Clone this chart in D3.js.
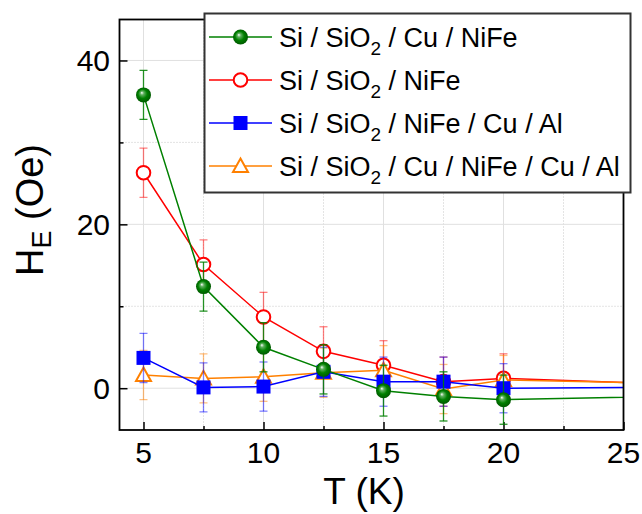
<!DOCTYPE html>
<html>
<head>
<meta charset="utf-8">
<script src="https://cdn.jsdelivr.net/npm/d3@7"></script>
<style>
  html, body { margin: 0; padding: 0; background: #fff; }
  svg { display: block; font-family: "Liberation Sans", Arial, sans-serif; }
</style>
</head>
<body>
<svg id="chart" width="642" height="514"></svg>
<script>
// ---------- data ----------
const temps = [5, 7.5, 10, 12.5, 15, 17.5, 20, 30];
const seriesNames = ["Si / SiO|2| / Cu / NiFe", "Si / SiO|2| / NiFe", "Si / SiO|2| / NiFe / Cu / Al", "Si / SiO|2| / Cu / NiFe / Cu / Al"];
const cuNiFe      = [35.8, 12.4, 5.0, 2.3, -0.3, -1.0, -1.4, -0.8];
const niFe        = [26.3, 15.1, 8.7, 4.5, 2.8, 0.8, 1.2, 0.2];
const niFeCuAl    = [3.7, 0.1, 0.2, 2.0, 0.8, 0.8, 0.0, 0.15];
const cuNiFeCuAl  = [1.6, 1.2, 1.4, 1.9, 2.2, -0.1, 1.0, 0.4];
const errCuNiFe     = [3, 3, 3, 3, 3.1, 3, 3, 3];
const errNiFe       = [3, 3, 3, 3, 3, 3, 3, 3];
const errNiFeCuAl   = [3, 3, 3, 3, 3, 3, 3, 3];
const errCuNiFeCuAl = [3, 3, 3, 3, 3, 3, 3, 3];
const xTicks = [5, 10, 15, 20, 25];
const xMinor = [7.5, 12.5, 17.5, 22.5];
const yTicks = [0, 20, 40];
const yMinor = [10, 30];

const series = [
  { name: seriesNames[0], values: cuNiFe,     err: errCuNiFe,     color: "#008000", marker: "sphere",   errOpacity: 0.85 },
  { name: seriesNames[1], values: niFe,       err: errNiFe,       color: "#ff0000", marker: "circle",   errOpacity: 0.5 },
  { name: seriesNames[2], values: niFeCuAl,   err: errNiFeCuAl,   color: "#0000ff", marker: "square",   errOpacity: 0.5 },
  { name: seriesNames[3], values: cuNiFeCuAl, err: errCuNiFeCuAl, color: "#ff8000", marker: "triangle", errOpacity: 0.5 }
];
const drawOrder = [1, 3, 2, 0];

// ---------- layout ----------
const svg = d3.select("#chart");
const L = 119.5, R = 623.5, T = 19.5, B = 430;
const x = d3.scaleLinear().domain([4, 25]).range([L, R]);
const y = d3.scaleLinear().domain([-5.1, 45]).range([B, T]);

const defs = svg.append("defs");
defs.append("clipPath").attr("id", "clip")
  .append("rect").attr("x", L).attr("y", T).attr("width", R - L).attr("height", B - T);
const grad = defs.append("radialGradient").attr("id", "sphere")
  .attr("cx", "50%").attr("cy", "50%").attr("r", "55%").attr("fx", "38%").attr("fy", "35%");
grad.append("stop").attr("offset", "0%").attr("stop-color", "#ffffff");
grad.append("stop").attr("offset", "22%").attr("stop-color", "#5fb05f");
grad.append("stop").attr("offset", "55%").attr("stop-color", "#008000");
grad.append("stop").attr("offset", "100%").attr("stop-color", "#005200");

// grid
const grid = svg.append("g");
grid.selectAll(".gx").data(xTicks.filter(d => d < 25)).join("line")
  .attr("x1", d => x(d)).attr("x2", d => x(d)).attr("y1", T).attr("y2", B)
  .attr("stroke", "#e0e0e0").attr("stroke-width", 1);
grid.selectAll(".gxm").data(xMinor).join("line")
  .attr("x1", d => x(d)).attr("x2", d => x(d)).attr("y1", T).attr("y2", B)
  .attr("stroke", "#c8c8c8").attr("stroke-width", 1).attr("stroke-dasharray", "1,2");
grid.selectAll(".gy").data(yTicks).join("line")
  .attr("x1", L).attr("x2", R).attr("y1", d => y(d)).attr("y2", d => y(d))
  .attr("stroke", "#e0e0e0").attr("stroke-width", 1);
grid.selectAll(".gym").data(yMinor).join("line")
  .attr("x1", L).attr("x2", R).attr("y1", d => y(d)).attr("y2", d => y(d))
  .attr("stroke", "#c8c8c8").attr("stroke-width", 1).attr("stroke-dasharray", "1,2");

// axes (ticks inside)
const xAxis = d3.axisBottom(x).tickValues(xTicks).tickSize(-8).tickFormat("");
const xAxisMinor = d3.axisBottom(x).tickValues(xMinor).tickSize(-4).tickFormat("");
const yAxis = d3.axisLeft(y).tickValues(yTicks).tickSize(-8).tickFormat("");
const yAxisMinor = d3.axisLeft(y).tickValues(yMinor).tickSize(-4).tickFormat("");
[xAxis, xAxisMinor].forEach(a => {
  const g = svg.append("g").attr("transform", `translate(0,${B})`).call(a);
  g.select(".domain").remove();
  g.selectAll("line").attr("stroke", "#000").attr("stroke-width", 1.5);
});
[yAxis, yAxisMinor].forEach(a => {
  const g = svg.append("g").attr("transform", `translate(${L},0)`).call(a);
  g.select(".domain").remove();
  g.selectAll("line").attr("stroke", "#000").attr("stroke-width", 1.5);
});

// tick labels
svg.append("g").selectAll("text").data(xTicks).join("text")
  .attr("x", d => x(d)).attr("y", 463).attr("text-anchor", "middle")
  .attr("font-size", 30).attr("fill", "#000").text(d => d);
svg.append("g").selectAll("text").data(yTicks).join("text")
  .attr("x", 110).attr("y", d => y(d) + 10.5).attr("text-anchor", "end")
  .attr("font-size", 30).attr("fill", "#000").text(d => d);

// axis titles
svg.append("text").attr("x", 364).attr("y", 504).attr("text-anchor", "middle")
  .attr("font-size", 37).attr("fill", "#000").text("T (K)");
const yt = svg.append("text").attr("transform", "translate(43,210) rotate(-90)")
  .attr("text-anchor", "middle").attr("font-size", 38).attr("fill", "#000");
yt.append("tspan").text("H");
yt.append("tspan").attr("font-size", 27).attr("dy", 8).text("E");
yt.append("tspan").attr("dy", -8).text(" (Oe)");

// marker drawing
function drawMarker(g, type, color, cx, cy) {
  if (type === "sphere") {
    g.append("circle").attr("cx", cx).attr("cy", cy).attr("r", 7.5).attr("fill", "url(#sphere)");
  } else if (type === "circle") {
    g.append("circle").attr("cx", cx).attr("cy", cy).attr("r", 6.8)
      .attr("fill", "#fff").attr("stroke", color).attr("stroke-width", 2);
  } else if (type === "square") {
    g.append("rect").attr("x", cx - 7).attr("y", cy - 7).attr("width", 14).attr("height", 14)
      .attr("fill", color);
  } else if (type === "triangle") {
    const s = 7.5;
    g.append("path")
      .attr("d", `M${cx},${cy - s}L${cx + s},${cy + s * 0.8}L${cx - s},${cy + s * 0.8}Z`)
      .attr("fill", "#fff").attr("stroke", color).attr("stroke-width", 2).attr("stroke-linejoin", "miter");
  }
}

// plot series
const plot = svg.append("g").attr("clip-path", "url(#clip)");
const line = d3.line().x(d => x(d[0])).y(d => y(d[1]));
drawOrder.forEach(i => {
  const s = series[i];
  const pts = temps.map((t, k) => [t, s.values[k], s.err[k]]);
  const g = plot.append("g");
  g.append("path").datum(pts).attr("d", line).attr("fill", "none")
    .attr("stroke", s.color).attr("stroke-width", 1.5);
  pts.forEach(p => {
    const cx = x(p[0]);
    const eg = g.append("g").attr("stroke", s.color).attr("stroke-opacity", s.errOpacity).attr("stroke-width", 1.3);
    eg.append("line").attr("x1", cx).attr("x2", cx).attr("y1", y(p[1] + p[2])).attr("y2", y(p[1] - p[2]));
    eg.append("line").attr("x1", cx - 4).attr("x2", cx + 4).attr("y1", y(p[1] + p[2])).attr("y2", y(p[1] + p[2]));
    eg.append("line").attr("x1", cx - 4).attr("x2", cx + 4).attr("y1", y(p[1] - p[2])).attr("y2", y(p[1] - p[2]));
  });
  pts.forEach(p => drawMarker(g, s.marker, s.color, x(p[0]), y(p[1])));
});

// frame
svg.append("rect").attr("x", L).attr("y", T).attr("width", R - L).attr("height", B - T)
  .attr("fill", "none").attr("stroke", "#000").attr("stroke-width", 1.8);

// legend
const lg = svg.append("g");
lg.append("rect").attr("x", 204.5).attr("y", 13.5).attr("width", 426).attr("height", 179)
  .attr("fill", "#fff").attr("stroke", "#333").attr("stroke-width", 2);
series.forEach((s, i) => {
  const cy = 37 + i * 43;
  lg.append("line").attr("x1", 209).attr("x2", 272).attr("y1", cy).attr("y2", cy)
    .attr("stroke", s.color).attr("stroke-width", 1.5);
  drawMarker(lg, s.marker, s.color, 240.5, cy);
  const parts = s.name.split("|");
  const t = lg.append("text").attr("x", 279).attr("y", cy + 10).attr("font-size", 27).attr("fill", "#000");
  t.append("tspan").text(parts[0]);
  t.append("tspan").attr("font-size", 19).attr("dy", 8).text(parts[1]);
  t.append("tspan").attr("dy", -8).text(parts[2]);
});
</script>
</body>
</html>
